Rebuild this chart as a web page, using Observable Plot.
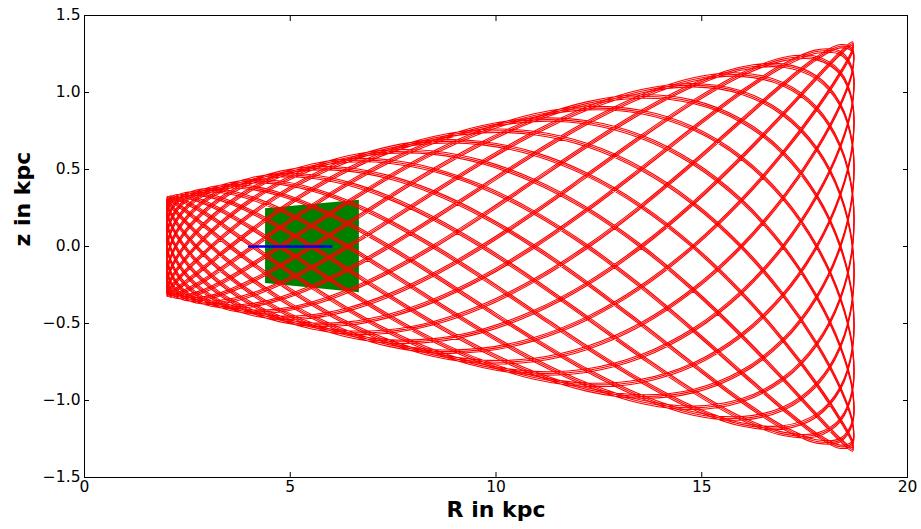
<!DOCTYPE html>
<html>
<head>
<meta charset="utf-8">
<script src="https://cdn.jsdelivr.net/npm/d3@7"></script>
<script src="https://cdn.jsdelivr.net/npm/@observablehq/plot@0.6"></script>
<style>
  html, body { margin: 0; padding: 0; background: #fff; }
  #chart svg { display: block; }
</style>
</head>
<body>
<div id="chart"></div>
<script>
// Meridional (R, z) orbit: radii of the sampled nodes along one outward
// pass from pericentre (R = 2 kpc) to apocentre (R = 18.7 kpc), in kpc.
const rNodes = [2.008, 2.077, 2.214, 2.425, 2.712, 3.083, 3.542, 4.098, 4.756, 5.522,
  6.400, 7.388, 8.481, 9.667, 10.925, 12.225, 13.529, 14.791, 15.958, 16.977,
  17.795, 18.368, 18.663];

// Half-height of the orbit's envelope at those radii, in kpc.
const zEdge = [0.3125, 0.3167, 0.3249, 0.3377, 0.3550, 0.3774, 0.4051, 0.4387, 0.4785, 0.5247,
  0.5778, 0.6374, 0.7035, 0.7751, 0.8511, 0.9296, 1.0083, 1.0846, 1.1551, 1.2166,
  1.2660, 1.3006, 1.3184];

// Vertical phase levels (fraction of the envelope) in 15 degree steps.
const phaseLevels = [1, 0.9659, 0.866, 0.7071, 0.5, 0.2588, 0, -0.2588, -0.5, -0.7071,
  -0.866, -0.9659, -1, -0.9659, -0.866, -0.7071, -0.5, -0.2588, 0, 0.2588,
  0.5, 0.7071, 0.866, 0.9659];

// Order in which the twelve radial periods follow one another.
const periodOrder = [0, 11, 10, 9, 8, 7, 6, 5, 4, 3, 2, 1];

// Region filled by the second (green) orbit, and the short blue track.
const greenR = [4.40, 6.68];
const greenTop = [0.245, 0.300];
const greenBottom = [-0.240, -0.300];
const blueR = [4.0, 6.0];
const blueZ = [0.0, 0.0];

// Axis ticks
const xTicks = [0, 5, 10, 15, 20];
const yTicks = [-1.5, -1.0, -0.5, 0.0, 0.5, 1.0, 1.5];

// Orbit table: out to apocentre and back for every radial period.
const orbit = [];
for (const m of periodOrder) {
  for (let i = 0; i < rNodes.length; i++) {
    orbit.push({R: rNodes[i], z: zEdge[i] * phaseLevels[(1 + i + 2 * m) % 24]});
  }
  for (let i = rNodes.length - 1; i >= 0; i--) {
    orbit.push({R: rNodes[i], z: zEdge[i] * phaseLevels[(46 - i + 2 * m) % 24]});
  }
}
orbit.push(orbit[0]);

const green = greenR.map((R, i) => ({R, lo: greenBottom[i], hi: greenTop[i]}));
const blue = blueR.map((R, i) => ({R, z: blueZ[i]}));

const red = "#ff0000";
// each pass is traced a few times with a slight drift, giving thin strands
const strand = (dy) => Plot.line(orbit, {x: "R", y: "z", curve: "catmull-rom", stroke: red, strokeWidth: 1.1, dy});

const chart = Plot.plot({
  width: 921,
  height: 529,
  marginLeft: 84,
  marginRight: 14,
  marginTop: 15,
  marginBottom: 52,
  style: {fontFamily: "'DejaVu Sans', sans-serif", background: "#ffffff", color: "#000"},
  x: {domain: [0, 20]},
  y: {domain: [-1.5, 1.5]},
  marks: [
    Plot.areaY(green, {x: "R", y1: "lo", y2: "hi", fill: "#008000"}),
    strand(-1.7),
    strand(0),
    strand(1.7),
    Plot.line(blue, {x: "R", y: "z", stroke: "#0000ee", strokeWidth: 2.4}),
    Plot.frame({stroke: "#000", strokeWidth: 1}),
    // inward ticks on all four sides
    Plot.axisX(xTicks, {anchor: "bottom", tickSize: 5, dy: -5, fill: "none", label: null}),
    Plot.axisX(xTicks, {anchor: "top", tickSize: 5, dy: 5, fill: "none", label: null}),
    Plot.axisY(yTicks, {anchor: "left", tickSize: 5, dx: 5, fill: "none", label: null}),
    Plot.axisY(yTicks, {anchor: "right", tickSize: 5, dx: -5, fill: "none", label: null}),
    // tick labels
    Plot.axisX(xTicks, {anchor: "bottom", tickSize: 0, tickPadding: 3, fontSize: 15.5, label: null, tickFormat: d3.format("d")}),
    Plot.axisY(yTicks, {anchor: "left", tickSize: 0, tickPadding: 4, fontSize: 15.5, label: null, tickFormat: d3.format(".1f")}),
    // axis titles
    Plot.text(["R in kpc"], {text: d => d, frameAnchor: "bottom", dy: 39, fontSize: 22, fontWeight: "bold"}),
    Plot.text(["z in kpc"], {text: d => d, frameAnchor: "left", dx: -62, rotate: -90, fontSize: 22, fontWeight: "bold"})
  ]
});

document.getElementById("chart").append(chart);
</script>
</body>
</html>
